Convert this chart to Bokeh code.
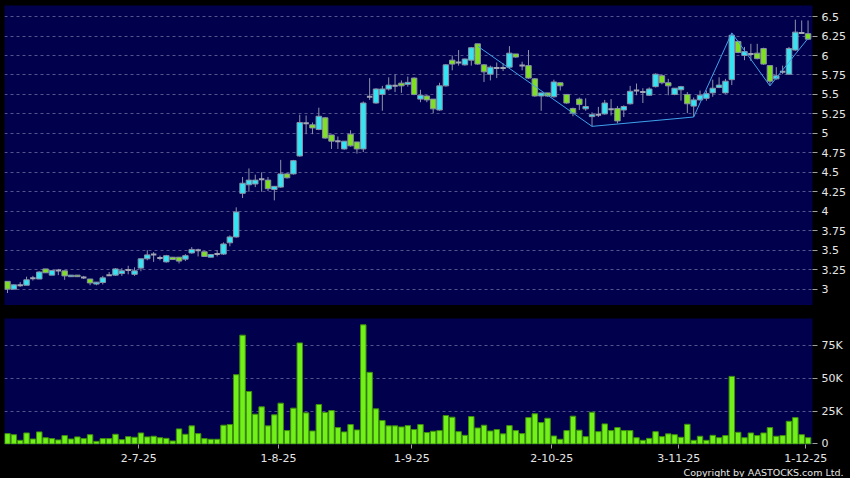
from bokeh.plotting import figure
from bokeh.layouts import column
from bokeh.models import Range1d, FixedTicker, Grid, Title, ColumnDataSource
from bokeh.embed import file_html
from bokeh.resources import INLINE

# ---------------- data (daily bars, 2 Jun 2025 .. 1 Dec 2025) ----------------
open_ = [3.10, 3.00, 3.05, 3.05, 3.14, 3.13, 3.26, 3.18, 3.24, 3.235,
         3.16, 3.18, 3.15, 3.13, 3.065, 3.085, 3.18, 3.18, 3.20, 3.245,
         3.19, 3.27, 3.39, 3.445, 3.40, 3.35, 3.41, 3.41, 3.385, 3.465,
         3.50, 3.48, 3.41, 3.45, 3.45, 3.595, 3.67, 4.23, 4.34, 4.35,
         4.41, 4.40, 4.28, 4.31, 4.48, 4.48, 4.71, 5.13, 5.11, 5.05,
         5.20, 4.98, 4.90, 4.80, 4.99, 4.89, 4.80, 5.47, 5.39, 5.50,
         5.57, 5.61, 5.645, 5.63, 5.71, 5.44, 5.48, 5.44, 5.30, 5.61,
         5.94, 5.91, 5.88, 5.94, 6.15, 5.88, 5.76, 5.84, 5.84, 5.85,
         6.02, 5.87, 5.87, 5.70, 5.48, 5.52, 5.47, 5.65, 5.50, 5.32,
         5.44, 5.315, 5.215, 5.24, 5.25, 5.31, 5.32, 5.30, 5.38, 5.55,
         5.53, 5.49, 5.60, 5.74, 5.65, 5.50, 5.56, 5.50, 5.35, 5.43,
         5.45, 5.52, 5.59, 5.52, 5.69, 6.18, 6.00, 6.02, 6.03, 6.09,
         5.87, 5.70, 5.79, 5.76, 6.07, 6.29, 6.28]
close_ = [3.00, 3.055, 3.05, 3.12, 3.14, 3.22, 3.21, 3.24, 3.24, 3.17,
          3.18, 3.16, 3.15, 3.08, 3.09, 3.145, 3.18, 3.26, 3.235, 3.245,
          3.235, 3.39, 3.44, 3.445, 3.40, 3.43, 3.38, 3.36, 3.43, 3.51,
          3.50, 3.42, 3.445, 3.45, 3.58, 3.67, 3.99, 4.36, 4.40, 4.40,
          4.41, 4.29, 4.32, 4.48, 4.43, 4.65, 5.14, 5.13, 5.07, 5.22,
          4.94, 4.90, 4.90, 4.90, 4.84, 4.80, 5.39, 5.47, 5.57, 5.57,
          5.62, 5.61, 5.61, 5.655, 5.50, 5.49, 5.43, 5.315, 5.61, 5.88,
          5.89, 5.91, 5.955, 6.10, 5.89, 5.79, 5.85, 5.84, 5.84, 6.03,
          5.98, 5.87, 5.71, 5.48, 5.52, 5.48, 5.66, 5.61, 5.39, 5.26,
          5.37, 5.345, 5.24, 5.24, 5.39, 5.31, 5.16, 5.345, 5.54, 5.55,
          5.53, 5.57, 5.76, 5.65, 5.61, 5.58, 5.60, 5.38, 5.43, 5.49,
          5.51, 5.58, 5.62, 5.67, 6.26, 6.04, 6.05, 6.02, 5.96, 5.89,
          5.67, 5.74, 5.79, 6.09, 6.30, 6.29, 6.21]
high_ = [3.10, 3.06, 3.09, 3.16, 3.17, 3.23, 3.26, 3.24, 3.26, 3.24,
         3.18, 3.18, 3.17, 3.13, 3.09, 3.17, 3.22, 3.27, 3.27, 3.30,
         3.28, 3.39, 3.50, 3.475, 3.43, 3.44, 3.41, 3.41, 3.45, 3.54,
         3.52, 3.48, 3.445, 3.50, 3.60, 3.69, 4.05, 4.44, 4.55, 4.47,
         4.50, 4.44, 4.32, 4.66, 4.49, 4.66, 5.24, 5.23, 5.14, 5.33,
         5.21, 4.98, 4.96, 4.90, 5.04, 4.89, 5.41, 5.71, 5.58, 5.61,
         5.72, 5.76, 5.68, 5.73, 5.72, 5.56, 5.49, 5.44, 5.65, 5.89,
         6.00, 6.07, 5.96, 6.11, 6.15, 5.89, 5.87, 5.91, 5.90, 6.12,
         6.02, 5.92, 6.07, 5.71, 5.52, 5.52, 5.69, 5.65, 5.50, 5.33,
         5.46, 5.45, 5.27, 5.34, 5.43, 5.44, 5.35, 5.36, 5.61, 5.64,
         5.58, 5.59, 5.77, 5.76, 5.70, 5.58, 5.61, 5.53, 5.46, 5.55,
         5.55, 5.69, 5.72, 5.70, 6.29, 6.19, 6.11, 6.15, 6.15, 6.10,
         5.87, 5.85, 5.87, 6.11, 6.46, 6.45, 6.45]
low_ = [2.95, 3.00, 3.03, 3.05, 3.11, 3.13, 3.21, 3.18, 3.18, 3.12,
        3.16, 3.16, 3.13, 3.05, 3.05, 3.06, 3.17, 3.17, 3.17, 3.19,
        3.17, 3.23, 3.37, 3.35, 3.37, 3.34, 3.38, 3.33, 3.36, 3.455,
        3.42, 3.42, 3.41, 3.42, 3.44, 3.55, 3.66, 4.17, 4.25, 4.31,
        4.25, 4.26, 4.14, 4.30, 4.42, 4.47, 4.70, 4.99, 4.99, 5.04,
        4.93, 4.80, 4.80, 4.79, 4.83, 4.74, 4.76, 5.43, 5.38, 5.29,
        5.55, 5.53, 5.52, 5.60, 5.49, 5.40, 5.40, 5.26, 5.29, 5.60,
        5.81, 5.87, 5.87, 5.87, 5.88, 5.66, 5.68, 5.71, 5.80, 5.84,
        5.97, 5.81, 5.70, 5.47, 5.29, 5.47, 5.46, 5.55, 5.38, 5.22,
        5.30, 5.29, 5.09, 5.21, 5.24, 5.23, 5.13, 5.21, 5.37, 5.49,
        5.39, 5.48, 5.59, 5.63, 5.49, 5.49, 5.42, 5.26, 5.21, 5.42,
        5.42, 5.47, 5.58, 5.51, 5.62, 6.03, 5.94, 5.93, 5.95, 5.88,
        5.61, 5.69, 5.76, 5.75, 6.06, 6.28, 6.20]
volume_k = [7.9, 7.1, 2.8, 8.4, 3.8, 9.2, 4.8, 4.1, 3.1, 6.4,
            3.8, 5.4, 4.1, 7.1, 2.0, 4.1, 4.1, 7.4, 3.3, 5.6,
            5.1, 8.4, 5.4, 5.9, 4.8, 4.3, 2.3, 11.5, 7.4, 13.8,
            7.9, 4.1, 3.6, 3.6, 14.3, 14.8, 52.8, 82.9, 40.0, 22.7,
            28.3, 13.8, 22.2, 31.1, 10.2, 27.3, 77.0, 23.7, 9.9, 30.1,
            24.0, 25.5, 12.5, 9.2, 14.8, 10.7, 90.8, 54.6, 26.8, 17.9,
            13.8, 13.8, 13.0, 14.0, 11.0, 14.8, 8.7, 9.7, 10.2, 21.7,
            20.4, 9.4, 6.6, 20.9, 12.2, 14.3, 9.9, 11.0, 7.7, 14.0,
            10.2, 7.9, 20.1, 23.0, 16.3, 19.6, 6.1, 3.6, 10.2, 21.2,
            10.5, 5.6, 24.2, 9.4, 15.3, 10.2, 12.5, 10.2, 10.2, 4.8,
            2.8, 4.3, 9.4, 5.6, 7.7, 7.1, 5.1, 15.0, 2.8, 5.9,
            2.8, 6.6, 4.8, 6.4, 51.5, 8.9, 4.8, 8.4, 6.4, 8.4,
            12.5, 5.9, 6.4, 17.3, 20.1, 7.1, 4.8]

# zig-zag trend line (bar index, price)
zigzag_idx = [74, 92, 108, 114, 120, 126]
zigzag_val = [6.12, 5.09, 5.21, 6.29, 5.61, 6.22]

# date ticks: bar index of first trading day of each month
date_tick_idx = [21, 43, 64, 86, 106, 126]
date_tick_labels = ["2-7-25", "1-8-25", "1-9-25", "2-10-25", "3-11-25", "1-12-25"]

price_ticks = [3.0, 3.25, 3.5, 3.75, 4.0, 4.25, 4.5, 4.75, 5.0, 5.25, 5.5, 5.75, 6.0, 6.25, 6.5]
vol_ticks = [0, 25, 50, 75]
vol_tick_labels = ["0", "25K", "50K", "75K"]

# ---------------- styling ----------------
NAVY = "#00004C"
GRID = "#55558E"
UP_FILL = "#35E3F2"
DN_FILL = "#7FE022"
EDGE = "#8890A6"
WICK = "#8C94A8"
DOJI = "#A2A6B4"
VOL_FILL = "#72F01A"
VOL_LINE = "#3E8E0C"
TXT = "#E6E6E6"
FONT = "DejaVu Sans"
TICK_SHIFT = -0.35
W = 848

n = len(open_)
idx = list(range(n))
tick_pos = [d + TICK_SHIFT for d in date_tick_idx]

src = ColumnDataSource(dict(x=idx, o=open_, c=close_, h=high_, l=low_, v=volume_k))
up = [i for i in idx if close_[i] > open_[i]]
dn = [i for i in idx if close_[i] < open_[i]]
dj = [i for i in idx if close_[i] == open_[i]]

def sub(ids):
    return ColumnDataSource(dict(x=ids,
                                 top=[max(open_[i], close_[i]) for i in ids],
                                 bot=[min(open_[i], close_[i]) for i in ids],
                                 y=[close_[i] for i in ids]))

x_range = Range1d(-0.47, 126.7)

def style(p):
    p.background_fill_color = NAVY
    p.border_fill_color = "black"
    p.outline_line_color = None
    p.min_border_left = 4
    p.min_border_right = 34
    p.min_border_bottom = 0
    vg = Grid(dimension=0, ticker=FixedTicker(ticks=tick_pos), grid_line_color=GRID,
              grid_line_dash="3 3", grid_line_width=1)
    p.add_layout(vg)
    p.ygrid.grid_line_color = GRID
    p.ygrid.grid_line_dash = "3 3"
    ax = p.yaxis[0]
    ax.axis_line_color = None
    ax.major_tick_in = 0
    ax.major_tick_out = 5
    ax.major_tick_line_color = "#A0A0A0"
    ax.minor_tick_line_color = None
    ax.major_label_text_color = TXT
    ax.major_label_text_font = FONT
    ax.major_label_text_font_size = "11px"
    ax.major_label_standoff = 4

# ---------------- price panel ----------------
p1 = figure(width=W, height=305, x_range=x_range, y_range=Range1d(2.79, 6.642),
            output_backend="svg", toolbar_location=None, x_axis_location=None,
            y_axis_location="right", min_border_top=5)
style(p1)
p1.xgrid.visible = False
p1.yaxis.ticker = FixedTicker(ticks=price_ticks)
p1.yaxis.major_label_overrides = {t: f"{t:g}" for t in price_ticks}

p1.segment(x0="x", y0="l", x1="x", y1="h", source=src, line_color=WICK, line_width=1)
p1.vbar(x="x", top="top", bottom="bot", width=0.86, source=sub(up),
        fill_color=UP_FILL, line_color=EDGE, line_width=1)
p1.vbar(x="x", top="top", bottom="bot", width=0.86, source=sub(dn),
        fill_color=DN_FILL, line_color=EDGE, line_width=1)
p1.rect(x="x", y="y", width=0.86, height=2, height_units="screen", source=sub(dj),
        fill_color=DOJI, line_color=None)
p1.line(zigzag_idx, zigzag_val, line_color="#3FA2EA", line_width=1)

# ---------------- volume panel ----------------
p2 = figure(width=W, height=172, x_range=x_range, y_range=Range1d(-0.4, 95.6),
            output_backend="svg", toolbar_location=None, y_axis_location="right",
            min_border_top=13)
style(p2)
p2.xgrid.visible = False
p2.yaxis.ticker = FixedTicker(ticks=vol_ticks)
p2.yaxis.major_label_overrides = {t: s for t, s in zip(vol_ticks, vol_tick_labels)}
xa = p2.xaxis[0]
xa.ticker = FixedTicker(ticks=tick_pos)
xa.major_label_overrides = {t: s for t, s in zip(tick_pos, date_tick_labels)}
xa.axis_line_color = None
xa.major_tick_in = 0
xa.major_tick_out = 4
xa.major_tick_line_color = "#A0A0A0"
xa.minor_tick_line_color = None
xa.major_label_text_color = TXT
xa.major_label_text_font = FONT
xa.major_label_text_font_size = "11px"
xa.major_label_standoff = 5

p2.vbar(x="x", top="v", bottom=0, width=0.86, source=src,
        fill_color=VOL_FILL, line_color=VOL_LINE, line_width=1)

p2.add_layout(Title(text="Copyright by AASTOCKS.com Ltd.", align="right",
                    text_color=TXT, text_font=FONT, text_font_size="9.5px",
                    text_font_style="normal", standoff=0, offset=-31), "below")

layout = column(p1, p2, spacing=0)
layout.styles = {"background-color": "black"}

html = file_html(layout, INLINE, title="chart")
html = html.replace("<head>", "<head><style>html,body{background:#000000;}</style>", 1)
open("out.html", "w").write(html)
